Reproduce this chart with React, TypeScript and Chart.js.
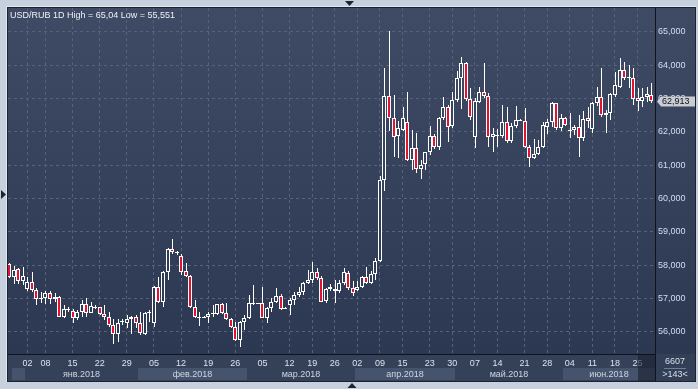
import { useEffect, useRef } from 'react';
import { Chart, registerables } from 'chart.js';

Chart.register(...registerables);

const FONT = "'Liberation Sans', Arial, sans-serif";
const RED = '#e3122e';

const opens = [
  58.02, 57.65, 57.88, 57.52, 57.27, 57.50, 57.25, 56.97, 57.02, 57.17,
  56.97, 57.03, 56.45, 56.65, 56.63, 56.40, 56.58, 56.82, 56.57, 56.75,
  56.73, 56.52, 56.43, 56.20, 55.92, 56.28, 56.25, 56.37, 56.43, 56.25,
  55.92, 56.57, 56.25, 57.33, 56.88, 57.80, 58.47, 58.38, 58.28, 57.83,
  57.67, 56.75, 56.45, 56.43, 56.45, 56.53, 56.53, 56.82, 56.55, 56.37,
  56.15, 55.75, 56.30, 56.40, 56.83, 56.85, 56.85, 56.42, 56.70, 56.88,
  57.08, 56.72, 56.80, 56.95, 57.10, 57.18, 57.45, 57.55, 57.78, 57.62,
  56.91, 57.28, 57.28, 57.21, 57.46, 57.76, 57.31, 57.24, 57.33, 57.64,
  57.46, 57.73, 58.11, 60.56, 63.08, 62.43, 61.88, 62.06, 62.29, 61.16,
  61.51, 60.89, 61.03, 61.39, 61.89, 61.54, 62.41, 62.74, 62.18, 62.96,
  63.61, 64.06, 62.99, 61.84, 62.91, 63.19, 63.09, 61.84, 61.91, 61.89,
  62.29, 61.74, 62.18, 62.36, 62.33, 61.56, 61.21, 61.33, 61.56, 62.16,
  62.31, 62.86, 62.11, 62.41, 62.06, 62.06, 62.14, 61.81, 62.41, 62.08,
  62.86, 63.04, 62.51, 62.56, 63.11, 63.36, 63.86, 63.61, 63.63, 63.01,
  62.94, 63.06, 63.11,
];

const highs = [
  58.05, 57.97, 57.90, 57.93, 57.65, 57.80, 57.30, 57.18, 57.22, 57.22,
  57.15, 57.08, 56.80, 56.75, 56.68, 56.65, 56.95, 57.00, 56.90, 56.80,
  56.75, 56.80, 56.60, 56.38, 56.37, 56.37, 56.50, 56.47, 56.50, 56.60,
  56.60, 56.65, 57.37, 57.65, 57.83, 58.50, 58.77, 58.43, 58.33, 58.05,
  57.70, 56.95, 56.60, 56.47, 56.60, 56.80, 56.83, 56.85, 56.85, 56.40,
  56.30, 56.32, 56.50, 57.10, 57.40, 56.86, 57.35, 56.75, 57.00, 57.30,
  57.12, 56.73, 57.02, 57.18, 57.35, 57.50, 57.85, 58.08, 57.90, 57.68,
  57.31, 57.43, 57.56, 57.56, 57.91, 57.81, 57.51, 57.51, 57.66, 57.94,
  57.81, 58.21, 60.69, 63.93, 65.04, 63.11, 62.33, 62.76, 63.19, 62.06,
  61.96, 61.16, 61.41, 62.19, 61.93, 62.46, 63.04, 62.81, 63.21, 63.83,
  64.26, 64.11, 63.31, 63.01, 63.36, 64.06, 63.16, 62.11, 62.09, 62.81,
  62.76, 62.26, 62.78, 62.38, 62.71, 61.61, 61.78, 61.76, 62.31, 62.38,
  62.91, 62.88, 62.54, 62.46, 62.56, 62.21, 62.51, 62.64, 62.76, 62.91,
  63.34, 63.91, 62.66, 63.16, 63.81, 64.21, 64.11, 64.01, 63.91, 63.31,
  63.31, 63.36, 63.46,
];

const lows = [
  57.60, 57.42, 57.42, 57.40, 57.22, 57.20, 56.80, 56.85, 56.82, 56.82,
  56.88, 56.43, 56.40, 56.60, 56.25, 56.35, 56.45, 56.45, 56.55, 56.68,
  56.50, 56.35, 56.15, 55.63, 55.70, 56.20, 56.10, 55.93, 56.10, 55.90,
  55.90, 56.28, 56.13, 56.85, 56.73, 57.55, 58.33, 58.30, 57.70, 57.63,
  56.70, 56.40, 56.17, 56.40, 56.27, 56.43, 56.50, 56.52, 56.35, 56.10,
  55.72, 55.551, 56.05, 56.38, 56.80, 56.82, 56.40, 56.25, 56.58, 56.85,
  56.65, 56.69, 56.50, 56.80, 57.05, 57.10, 57.42, 57.45, 57.55, 56.88,
  56.86, 57.21, 56.86, 57.16, 57.41, 57.26, 57.06, 57.21, 57.31, 57.43,
  57.43, 57.56, 58.09, 60.21, 62.03, 61.26, 61.21, 62.03, 61.13, 60.86,
  60.76, 60.59, 60.86, 61.31, 61.49, 61.46, 62.36, 61.71, 62.13, 62.89,
  62.69, 62.93, 62.36, 61.51, 62.86, 63.01, 61.56, 61.41, 61.54, 61.81,
  61.66, 61.66, 62.11, 62.32, 61.51, 60.94, 61.18, 61.31, 61.51, 61.94,
  62.16, 62.06, 62.04, 62.18, 61.81, 61.91, 61.26, 61.74, 62.11, 61.96,
  62.78, 62.46, 61.96, 62.36, 63.06, 63.31, 63.56, 63.31, 62.81, 62.64,
  62.74, 62.91, 62.88,
];

const closes = [
  57.65, 57.85, 57.52, 57.67, 57.50, 57.25, 56.97, 57.02, 57.15, 56.97,
  57.05, 56.45, 56.68, 56.67, 56.40, 56.58, 56.82, 56.57, 56.78, 56.70,
  56.53, 56.43, 56.20, 55.92, 56.27, 56.31, 56.37, 56.43, 56.25, 55.95,
  56.57, 56.60, 57.33, 56.88, 57.80, 58.47, 58.38, 58.36, 57.80, 57.67,
  56.75, 56.43, 56.43, 56.45, 56.53, 56.55, 56.83, 56.55, 56.37, 56.15,
  55.75, 56.30, 56.40, 56.85, 56.85, 56.83, 56.42, 56.70, 56.88, 57.08,
  56.68, 56.70, 56.95, 57.10, 57.18, 57.45, 57.55, 57.78, 57.62, 56.90,
  57.28, 57.34, 57.21, 57.46, 57.79, 57.31, 57.16, 57.33, 57.64, 57.46,
  57.73, 58.11, 60.56, 63.08, 62.43, 61.86, 62.11, 62.41, 61.16, 61.51,
  60.89, 61.01, 61.39, 61.89, 61.54, 62.41, 62.74, 62.16, 62.96, 63.61,
  64.06, 62.99, 62.46, 62.93, 63.19, 63.09, 61.84, 61.93, 61.89, 62.29,
  61.74, 62.18, 62.36, 62.34, 61.56, 61.21, 61.33, 61.56, 62.21, 62.31,
  62.86, 62.11, 62.41, 62.21, 62.05, 62.14, 61.81, 62.38, 62.34, 62.86,
  63.04, 62.51, 62.56, 63.13, 63.41, 63.86, 63.63, 63.64, 62.98, 62.94,
  63.04, 63.13, 62.913,
];

const tickIndex = [4, 8, 14, 20, 26, 32, 38, 44, 50, 56, 62, 67, 72, 77, 82, 87, 93, 98, 103, 108, 114, 119, 124, 129, 134, 139];
const tickLabels = ['02', '08', '15', '22', '29', '05', '12', '19', '26', '05', '12', '19', '26', '02', '09', '15', '23', '30', '07', '14', '21', '28', '04', '11', '18', '25'];
const monthStarts = [0, 4, 29, 53, 77, 99, 123];
const monthLabels = ['', 'янв.2018', 'фев.2018', 'мар.2018', 'апр.2018', 'май.2018', 'июн.2018'];
const yTicks = [56, 57, 58, 59, 60, 61, 62, 63, 64, 65];
const titleText = 'USD/RUB 1D High = 65,04 Low = 55,551';
const infoTop = '6607';

const fmt3 = (v: number) => v.toFixed(3).replace('.', ',');

function panelGradient(ctx: CanvasRenderingContext2D) {
  const g = ctx.createLinearGradient(0, 8, 0, 381);
  g.addColorStop(0, '#3f4b65');
  g.addColorStop(1, '#2b3650');
  return g;
}

const framePlugin = {
  id: 'frame',
  beforeDraw(chart: any) {
    const ctx: CanvasRenderingContext2D = chart.ctx;
    const { left, right, bottom } = chart.chartArea;
    const xs = chart.scales.x;
    ctx.save();
    ctx.fillStyle = '#c6d1dd';
    ctx.fillRect(0, 0, 698, 389);
    ctx.fillStyle = '#e2e8ef';
    ctx.fillRect(6, 6, 690, 1);
    ctx.fillRect(6, 6, 1, 376);
    ctx.fillStyle = '#1b2333';
    ctx.fillRect(7, 7, 689, 375);
    ctx.fillStyle = panelGradient(ctx);
    ctx.fillRect(8, 8, 687, 373);
    ctx.fillStyle = '#354159';
    ctx.fillRect(left, bottom, right - left, 381 - bottom);
    ctx.fillStyle = '#333f57';
    ctx.fillRect(right, bottom, 695 - right, 381 - bottom);
    ctx.font = `9px ${FONT}`;
    ctx.textAlign = 'center';
    ctx.textBaseline = 'alphabetic';
    for (let m = 0; m < monthStarts.length; m++) {
      let x0 = Math.round(xs.getPixelForValue(monthStarts[m] - 0.5));
      if (m === 0) x0 = Math.max(x0, left + 4);
      const x1 = m + 1 < monthStarts.length ? Math.round(xs.getPixelForValue(monthStarts[m + 1] - 0.5)) : right;
      if (m % 2 === 0) {
        ctx.fillStyle = '#46536c';
        ctx.fillRect(x0, 368, x1 - x0, 12);
      }
      if (monthLabels[m]) {
        ctx.fillStyle = '#ccd6e3';
        ctx.fillText(monthLabels[m], (x0 + x1) / 2, 377);
      }
    }
    ctx.restore();
  },
  afterDatasetsUpdate(chart: any) {
    chart.data.datasets.forEach((ds: any, di: number) => {
      const meta = chart.getDatasetMeta(di);
      meta.data.forEach((el: any) => {
        const cx = Math.round(el.x);
        el.x = ds.label === 'wick' ? cx + 0.5 : cx;
        const a = Math.round(Math.min(el.y, el.base));
        let b = Math.round(Math.max(el.y, el.base));
        if (b - a < 1) b = a + 1;
        el.y = a;
        el.base = b;
      });
    });
  },
  afterDraw(chart: any) {
    const ctx: CanvasRenderingContext2D = chart.ctx;
    const { left, right, bottom } = chart.chartArea;
    const ys = chart.scales.y;
    ctx.save();
    ctx.fillStyle = '#0f131c';
    ctx.fillRect(right, 8, 1, 373);
    ctx.fillRect(left, bottom, right - left, 1);
    ctx.fillStyle = 'rgba(24,31,47,0.6)';
    ctx.fillRect(638, bottom + 1, right - 638, 381 - bottom - 1);
    ctx.font = `9px ${FONT}`;
    ctx.textAlign = 'left';
    ctx.textBaseline = 'alphabetic';
    ctx.fillStyle = '#eef2f8';
    ctx.fillText(titleText, 10, 18);
    const last = closes[closes.length - 1];
    const py = Math.round(ys.getPixelForValue(last)) + 0.5;
    ctx.beginPath();
    ctx.moveTo(657, py);
    ctx.lineTo(661, py - 5);
    ctx.lineTo(695, py - 5);
    ctx.lineTo(695, py + 5);
    ctx.lineTo(661, py + 5);
    ctx.closePath();
    ctx.fillStyle = '#c9ccd2';
    ctx.fill();
    ctx.fillStyle = '#10131a';
    ctx.textBaseline = 'middle';
    ctx.fillText(fmt3(last), 662, py + 0.5);
    ctx.textAlign = 'center';
    ctx.textBaseline = 'alphabetic';
    ctx.fillStyle = '#d6dfec';
    ctx.fillText(infoTop, 675, 364);
    ctx.fillText(`>${closes.length}<`, 675, 377);
    ctx.fillStyle = '#6f7c96';
    ctx.fillRect(664, 368, 22, 1);
    ctx.fillStyle = '#1b2434';
    ctx.beginPath();
    ctx.moveTo(345, 1); ctx.lineTo(354, 1); ctx.lineTo(349.5, 6); ctx.closePath(); ctx.fill();
    ctx.beginPath();
    ctx.moveTo(347.5, 388); ctx.lineTo(356.5, 388); ctx.lineTo(352, 383); ctx.closePath(); ctx.fill();
    ctx.beginPath();
    ctx.moveTo(1, 190); ctx.lineTo(1, 199); ctx.lineTo(6, 194.5); ctx.closePath(); ctx.fill();
    ctx.restore();
  },
};

let gradCache: any = null;

export default function App() {
  const ref = useRef<HTMLCanvasElement | null>(null);
  useEffect(() => {
    if (!ref.current) return;
    const bodyData = opens.map((o, i) => ({ x: i, y: [o, closes[i]] }));
    const wickData = lows.map((l, i) => ({ x: i, y: [l, highs[i]] }));
    const chart = new Chart(ref.current, {
      type: 'bar',
      data: {
        datasets: [
          {
            label: 'body',
            data: bodyData as any,
            order: 0,
            grouped: false,
            barThickness: 4,
            borderWidth: 1,
            borderColor: '#ffffff',
            borderSkipped: false,
            inflateAmount: 0,
            backgroundColor: (c: any) => {
              const i = c.dataIndex;
              if (closes[i] >= opens[i]) {
                if (!gradCache || gradCache.chart !== c.chart) {
                  gradCache = { chart: c.chart, g: panelGradient(c.chart.ctx) };
                }
                return gradCache.g;
              }
              return RED;
            },
          } as any,
          {
            label: 'wick',
            data: wickData as any,
            order: 1,
            grouped: false,
            barThickness: 1,
            borderWidth: 0,
            inflateAmount: 0,
            backgroundColor: '#ffffff',
          } as any,
        ],
      },
      options: {
        responsive: false,
        maintainAspectRatio: false,
        animation: false,
        devicePixelRatio: 1,
        events: [],
        layout: { padding: { left: 8, top: 8, right: 3, bottom: 8 } },
        plugins: {
          legend: { display: false },
          tooltip: { enabled: false },
          title: { display: false },
        },
        scales: {
          x: {
            type: 'linear',
            position: 'bottom',
            offset: false,
            min: -0.29,
            max: 142.85,
            afterBuildTicks: (s: any) => {
              s.ticks = tickIndex.map((v) => ({ value: v }));
            },
            afterFit: (s: any) => {
              s.height = 27;
              s.paddingLeft = 0;
              s.paddingRight = 0;
            },
            grid: { color: '#55627c', lineWidth: 1, drawTicks: false, offset: false },
            border: { display: false, dash: [3, 3] },
            ticks: {
              autoSkip: false,
              maxRotation: 0,
              minRotation: 0,
              padding: 4,
              color: '#dae2ed',
              font: { family: FONT, size: 9 },
              callback: (v: any) => {
                const k = tickIndex.indexOf(Number(v));
                return k >= 0 ? tickLabels[k] : '';
              },
            },
          },
          y: {
            type: 'linear',
            position: 'right',
            min: 55.33,
            max: 65.72,
            afterBuildTicks: (s: any) => {
              s.ticks = yTicks.map((v) => ({ value: v }));
            },
            afterFit: (s: any) => {
              s.width = 40;
              s.paddingTop = 0;
              s.paddingBottom = 0;
            },
            grid: { color: '#55627c', lineWidth: 1, drawTicks: false },
            border: { display: false, dash: [3, 3] },
            ticks: {
              padding: 3,
              color: '#d3dff0',
              font: { family: FONT, size: 9 },
              callback: (v: any) => fmt3(Number(v)),
            },
          },
        },
      },
      plugins: [framePlugin as any],
    });
    return () => chart.destroy();
  }, []);
  return (
    <div style={{ position: 'fixed', left: 0, top: 0, width: 698, height: 389 }}>
      <canvas ref={ref} width={698} height={389} style={{ display: 'block' }} />
    </div>
  );
}
